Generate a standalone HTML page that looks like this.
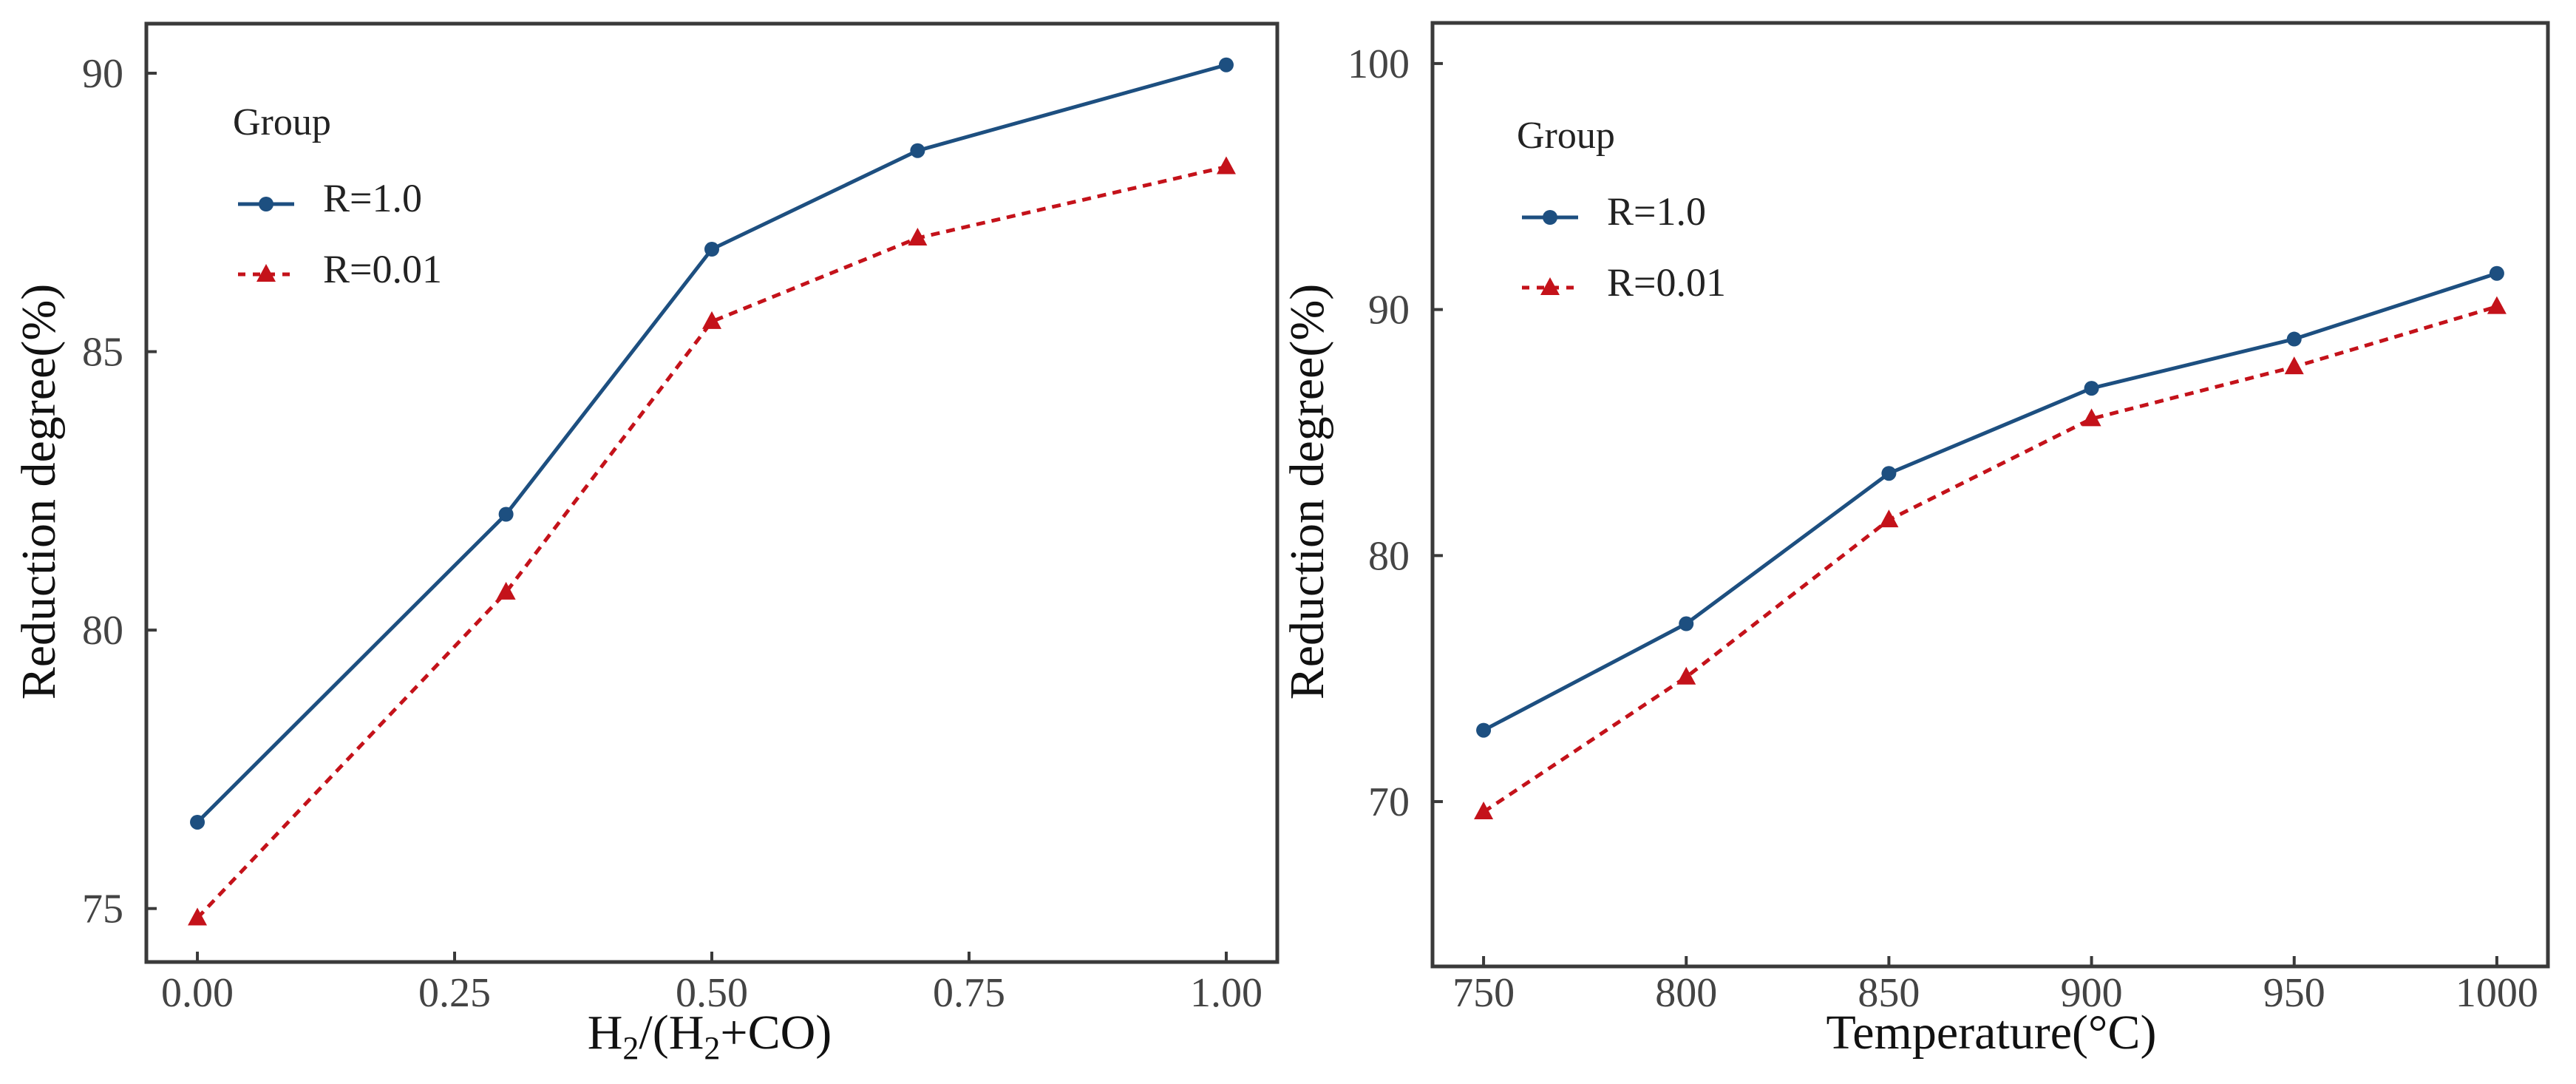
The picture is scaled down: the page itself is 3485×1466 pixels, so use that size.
<!DOCTYPE html>
<html>
<head>
<meta charset="utf-8">
<style>
html,body{margin:0;padding:0;background:#fff;}
svg{display:block;}
text{font-family:"Liberation Serif","Times New Roman",serif;}
</style>
</head>
<body>
<svg id="fig" width="3485" height="1466" viewBox="0 0 3485 1466" xmlns="http://www.w3.org/2000/svg">
  <rect x="0" y="0" width="3485" height="1466" fill="#fff"/>
</svg>
<script>
// ---- Left chart data ----
const leftCategories = [0.0, 0.3, 0.5, 0.7, 1.0];
const leftSeriesR1 = [76.55, 82.08, 86.84, 88.61, 90.15];
const leftSeriesR001 = [74.83, 80.68, 85.54, 87.04, 88.32];
const leftXTicks = [0, 0.25, 0.5, 0.75, 1.0];
const leftXTickLabels = ["0.00", "0.25", "0.50", "0.75", "1.00"];
const leftYTicks = [75, 80, 85, 90];
const leftYTickLabels = ["75", "80", "85", "90"];

// ---- Right chart data ----
const rightCategories = [750, 800, 850, 900, 950, 1000];
const rightSeriesR1 = [72.90, 77.23, 83.34, 86.80, 88.80, 91.47];
const rightSeriesR001 = [69.58, 75.06, 81.45, 85.56, 87.67, 90.12];
const rightXTicks = [750, 800, 850, 900, 950, 1000];
const rightXTickLabels = ["750", "800", "850", "900", "950", "1000"];
const rightYTicks = [70, 80, 90, 100];
const rightYTickLabels = ["70", "80", "90", "100"];

const seriesNames = ["R=1.0", "R=0.01"];

const NS = "http://www.w3.org/2000/svg";
const fig = document.getElementById("fig");
function mk(tag, attrs, parent) {
  const e = document.createElementNS(NS, tag);
  for (const k in attrs) e.setAttribute(k, attrs[k]);
  (parent || fig).appendChild(e);
  return e;
}
const BLUE = "#1d4f80", RED = "#c4121a", FRAME = "#3a3a3a";

function drawChart(cfg) {
  const g = mk("g", {});
  
  
  const L = cfg.left, R = cfg.right, T = cfg.top, B = cfg.bottom;
  const xs = v => L + (v - cfg.xmin) / (cfg.xmax - cfg.xmin) * (R - L);
  const ys = v => B - (v - cfg.ymin) / (cfg.ymax - cfg.ymin) * (B - T);

  // frame
  const fr = mk("rect", {x: L, y: T, width: R - L, height: B - T, fill: "none", stroke: FRAME, "stroke-width": 5}, g);
  
  

  // x ticks
  cfg.xTicks.forEach((t, i) => {
    const x = xs(t);
    const tk = mk("line", {x1: x, y1: B, x2: x, y2: B - 14, stroke: FRAME, "stroke-width": 4}, g);
    
    
    const lb = mk("text", {x: x, y: 1361, "text-anchor": "middle", "font-size": 56, fill: "#444"}, g);
    lb.textContent = cfg.xTickLabels[i];
    
    
  });
  // y ticks
  cfg.yTicks.forEach((t, i) => {
    const y = ys(t);
    const tk = mk("line", {x1: L, y1: y, x2: L + 14, y2: y, stroke: FRAME, "stroke-width": 4}, g);
    
    
    const lb = mk("text", {x: L - 31, y: y + 19, "text-anchor": "end", "font-size": 56, fill: "#444"}, g);
    lb.textContent = cfg.yTickLabels[i];
    
    
  });

  // series R=1.0
  const p1 = cfg.cats.map((c, i) => xs(c) + "," + ys(cfg.s1[i])).join(" ");
  const l1 = mk("polyline", {points: p1, fill: "none", stroke: BLUE, "stroke-width": 5, "stroke-linejoin": "round"}, g);
  
  
  cfg.cats.forEach((c, i) => {
    const m = mk("circle", {cx: xs(c), cy: ys(cfg.s1[i]), r: 10, fill: BLUE}, g);
    
    
  });
  // series R=0.01
  const p2 = cfg.cats.map((c, i) => xs(c) + "," + ys(cfg.s2[i])).join(" ");
  const l2 = mk("polyline", {points: p2, fill: "none", stroke: RED, "stroke-width": 5, "stroke-dasharray": "12,9"}, g);
  
  
  cfg.cats.forEach((c, i) => {
    const x = xs(c), y = ys(cfg.s2[i]);
    const m = mk("polygon", {points: (x) + "," + (y - 14) + " " + (x - 13) + "," + (y + 10) + " " + (x + 13) + "," + (y + 10), fill: RED}, g);
    
    
  });

  // axis titles
  const xt = mk("text", {x: cfg.xTitleX, y: 1418, "text-anchor": "middle", "font-size": 66, fill: "#111"}, g);
  
  
  if (cfg.h2) {
    xt.innerHTML = 'H<tspan font-size="44" dy="14">2</tspan><tspan dy="-14">/(H</tspan><tspan font-size="44" dy="14">2</tspan><tspan dy="-14">+CO)</tspan>';
  } else {
    xt.textContent = cfg.xTitle;
  }
  const yt = mk("text", {x: 0, y: 0, "text-anchor": "middle", "font-size": 66, fill: "#111",
    transform: "translate(" + cfg.yTitleX + ",665) rotate(-90)"}, g);
  yt.textContent = "Reduction degree(%)";
  
  

  // legend
  const lg = mk("g", {transform: "translate(" + cfg.legX + "," + cfg.legY + ")"}, g);
  
  
  const gt = mk("text", {x: 0, y: 0, "font-size": 52, fill: "#222"}, lg);
  gt.textContent = "Group";
  
  
  const e1 = mk("g", {}, lg);
  
  
  mk("line", {x1: 7, y1: 94, x2: 83, y2: 94, stroke: BLUE, "stroke-width": 5}, e1);
  mk("circle", {cx: 45, cy: 94, r: 10, fill: BLUE}, e1);
  const t1 = mk("text", {x: 122, y: 104, "font-size": 54, fill: "#222"}, e1);
  t1.textContent = seriesNames[0];
  const e2 = mk("g", {}, lg);
  
  
  mk("line", {x1: 7, y1: 189, x2: 83, y2: 189, stroke: RED, "stroke-width": 5, "stroke-dasharray": "10,10"}, e2);
  mk("polygon", {points: "45,175 32,199 58,199", fill: RED}, e2);
  const t2 = mk("text", {x: 122, y: 200, "font-size": 54, fill: "#222"}, e2);
  t2.textContent = seriesNames[1];
}

drawChart({
  name: "left-chart", left: 198, right: 1728, top: 32, bottom: 1301,
  xmin: -0.0496, xmax: 1.0496, ymin: 74.04, ymax: 90.89,
  cats: leftCategories, s1: leftSeriesR1, s2: leftSeriesR001,
  xTicks: leftXTicks, xTickLabels: leftXTickLabels, yTicks: leftYTicks, yTickLabels: leftYTickLabels,
  h2: true, xTitleX: 960, yTitleX: 74, legX: 315, legY: 182
});
drawChart({
  name: "right-chart", left: 1938, right: 3447, top: 31, bottom: 1307,
  xmin: 737.4, xmax: 1012.6, ymin: 63.3, ymax: 101.65,
  cats: rightCategories, s1: rightSeriesR1, s2: rightSeriesR001,
  xTicks: rightXTicks, xTickLabels: rightXTickLabels, yTicks: rightYTicks, yTickLabels: rightYTickLabels,
  h2: false, xTitle: "Temperature(°C)", xTitleX: 2694, yTitleX: 1790, legX: 2052, legY: 200
});
</script>
</body>
</html>
